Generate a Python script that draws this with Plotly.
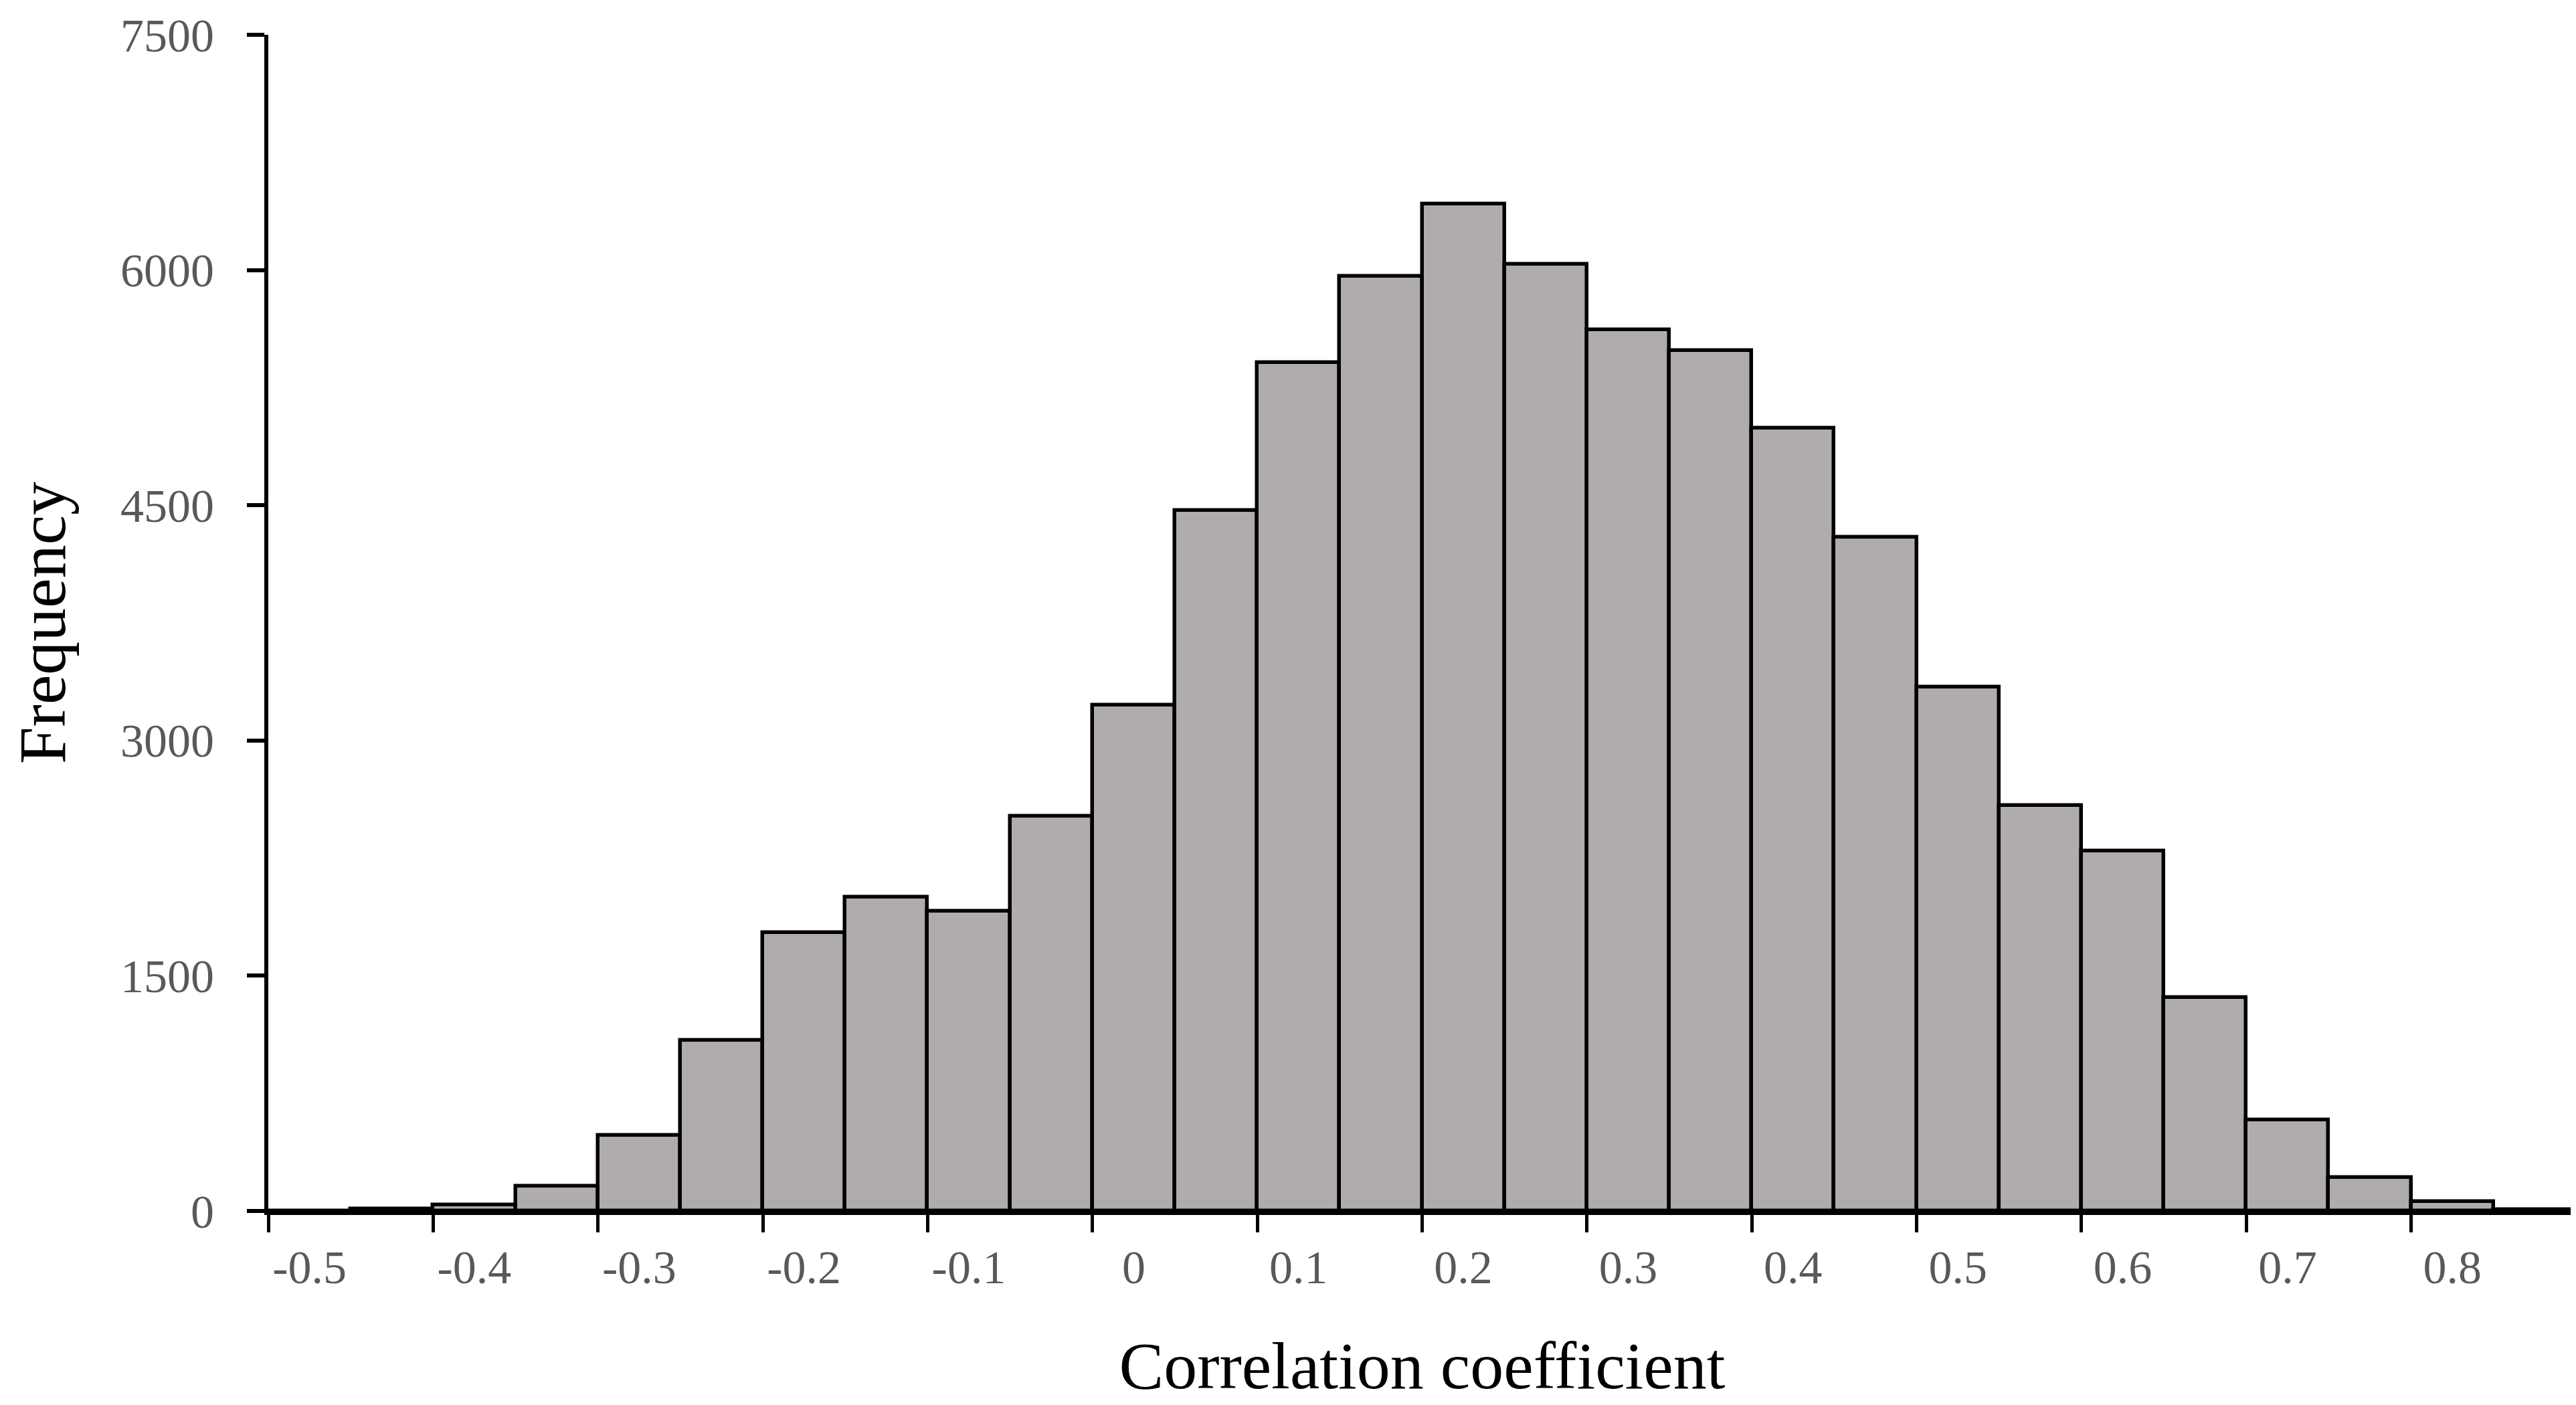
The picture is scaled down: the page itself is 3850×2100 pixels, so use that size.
import plotly.graph_objects as go

# Bin labels (bin centres, step 0.05) and frequencies
bins = ["-0.5", "-0.45", "-0.4", "-0.35", "-0.3", "-0.25", "-0.2", "-0.15", "-0.1", "-0.05",
        "0", "0.05", "0.1", "0.15", "0.2", "0.25", "0.3", "0.35", "0.4", "0.45",
        "0.5", "0.55", "0.6", "0.65", "0.7", "0.75", "0.8", "0.85"]
freq = [0, 12, 40, 160, 480, 1090, 1775, 2000, 1910, 2515,
        3225, 4465, 5410, 5960, 6420, 6035, 5620, 5485, 4990, 4295,
        3340, 2585, 2295, 1360, 580, 215, 60, 10]

y_ticks = [0, 1500, 3000, 4500, 6000, 7500]
x_title = "Correlation coefficient"
y_title = "Frequency"

FONT = "Liberation Serif"

fig = go.Figure(go.Bar(
    x=bins, y=freq,
    marker=dict(color="#AFACAB", line=dict(color="black", width=5.5)),
    width=1.0,
))

fig.update_layout(
    width=3850, height=2100, autosize=False,
    margin=dict(l=393, r=8, t=44, b=298),
    paper_bgcolor="white", plot_bgcolor="white",
    showlegend=False, bargap=0,
    font=dict(family=FONT, size=68, color="#595959"),
)

fig.update_xaxes(
    type="category", categoryorder="array", categoryarray=bins,
    tickmode="linear", tick0=0, dtick=2, tickson="boundaries",
    showline=True, linecolor="black", linewidth=6,
    ticks="outside", ticklen=26, tickwidth=4.5, tickcolor="black",
    tickfont=dict(family=FONT, size=70, color="#595959"),
    ticklabelstandoff=18, automargin=False,
    showgrid=False, zeroline=False,
    title=dict(text=x_title, font=dict(family=FONT, size=100, color="black"), standoff=75),
)
fig.update_yaxes(
    range=[0, 7500], tickmode="array", tickvals=y_ticks,
    showline=True, linecolor="black", linewidth=6,
    ticks="outside", ticklen=26, tickwidth=6, tickcolor="black",
    tickfont=dict(family=FONT, size=70, color="#595959"),
    ticklabelstandoff=35, ticklabeloverflow="allow", automargin=False,
    showgrid=False, zeroline=False,
    title=dict(text=y_title, font=dict(family=FONT, size=100, color="black"), standoff=110),
)

fig.write_html("out.html")
